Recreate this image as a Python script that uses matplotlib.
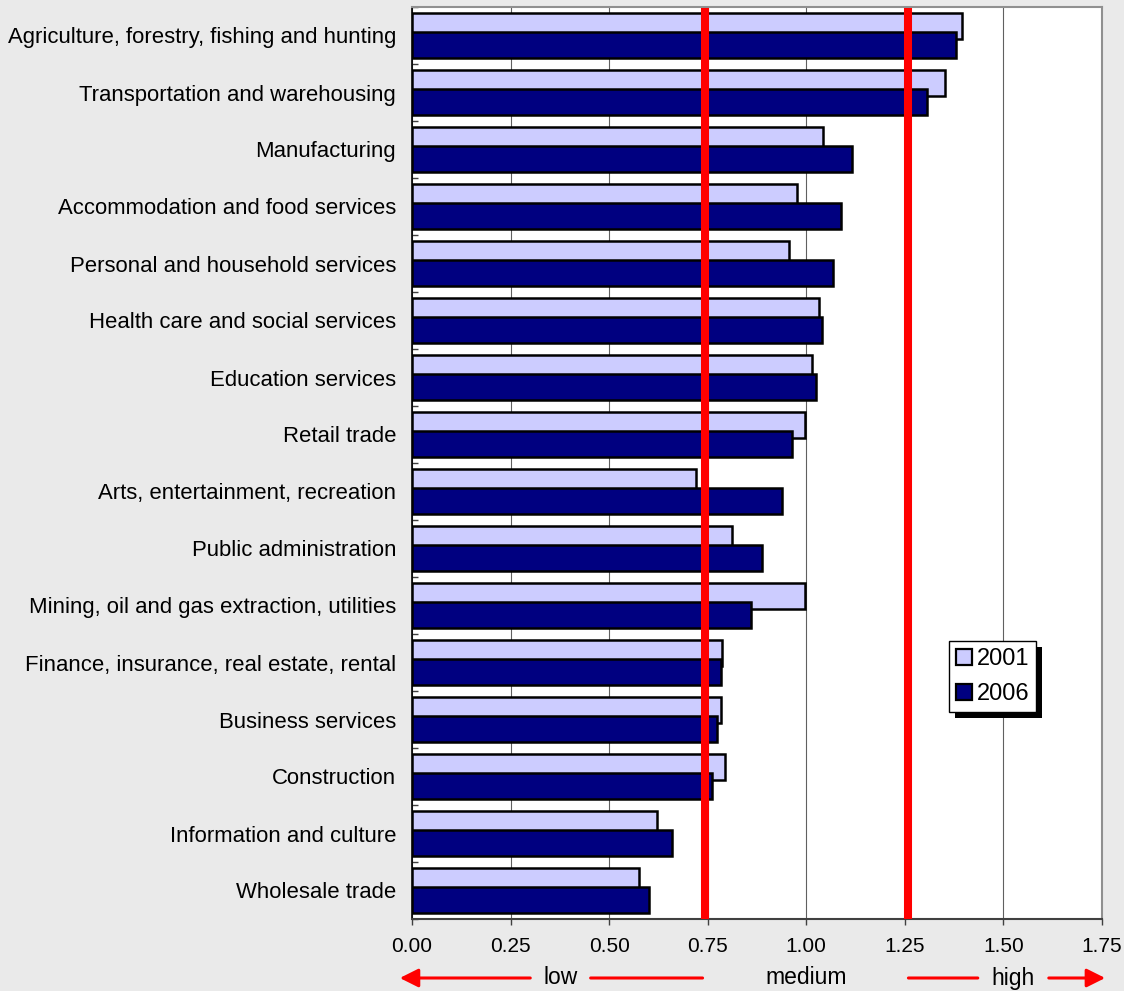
import numpy as np
import matplotlib
matplotlib.use("Agg")
import matplotlib.pyplot as plt
from matplotlib.patches import Patch, Rectangle
from matplotlib.transforms import IdentityTransform, blended_transform_factory

plt.rcParams["font.family"] = ["Liberation Sans", "DejaVu Sans"]

industries = [
    "Agriculture, forestry, fishing and hunting",
    "Transportation and warehousing",
    "Manufacturing",
    "Accommodation and food services",
    "Personal and household services",
    "Health care and social services",
    "Education services",
    "Retail trade",
    "Arts, entertainment, recreation",
    "Public administration",
    "Mining, oil and gas extraction, utilities",
    "Finance, insurance, real estate, rental",
    "Business services",
    "Construction",
    "Information and culture",
    "Wholesale trade",
]
values_2001 = [1.394, 1.351, 1.043, 0.976, 0.955, 1.031, 1.014, 0.996,
               0.720, 0.812, 0.998, 0.785, 0.783, 0.794, 0.621, 0.576]
values_2006 = [1.379, 1.306, 1.117, 1.087, 1.069, 1.041, 1.025, 0.963,
               0.938, 0.888, 0.861, 0.783, 0.773, 0.761, 0.659, 0.602]
series_labels = ["2001", "2006"]
thresholds = [0.744, 1.259]
x_ticks = [0.0, 0.25, 0.5, 0.75, 1.0, 1.25, 1.5, 1.75]

BG = "#EAEAEA"
LIGHT = "#CCCCFF"
DARK = "#000080"

fig = plt.figure(figsize=(11.24, 9.91), dpi=100, facecolor=BG)
ax = fig.add_axes([412 / 1124, 1 - 919 / 991, 690 / 1124, 912 / 991])
ax.set_facecolor("white")

y = np.arange(len(industries))
off = 0.158
h = 0.456
ax.barh(y - off, values_2001, height=h, color=LIGHT, edgecolor="black",
        linewidth=1.8, zorder=2)
ax.barh(y + off, values_2006, height=h, color=DARK, edgecolor="black",
        linewidth=1.8, zorder=3)

for t in thresholds:
    ax.axvline(t, ymin=0, ymax=(919 - 12) / 912, color="#FF0000", lw=5.8, zorder=4)

ax.set_xlim(0, 1.75)
ax.set_ylim(len(industries) - 0.5, -0.5)
ax.set_xticks(x_ticks)
ax.set_xticklabels([f"{v:.2f}" for v in x_ticks], fontsize=15)
ax.tick_params(axis="x", direction="out", length=4.3, width=1, color="#404040", pad=9)
ax.grid(axis="x", color="#606060", lw=0.8)
ax.set_axisbelow(True)

ax.set_yticks(y)
ax.set_yticklabels(industries, fontsize=15.9)
ax.set_yticks(np.arange(len(industries) + 1) - 0.5, minor=True)
ax.tick_params(axis="y", which="major", length=0, pad=11.5)
ax.tick_params(axis="y", which="minor", direction="in", length=4.3, width=1, color="#404040")

ax.spines["left"].set_color("black")
ax.spines["left"].set_linewidth(1.2)
ax.spines["bottom"].set_color("#404040")
ax.spines["top"].set_color("#909090")
ax.spines["right"].set_color("#909090")
for s in ["top", "right", "bottom"]:
    ax.spines[s].set_linewidth(1.5)

handles = [Patch(facecolor=LIGHT, edgecolor="black", linewidth=1.6),
           Patch(facecolor=DARK, edgecolor="black", linewidth=1.6)]
leg = ax.legend(handles, series_labels, loc="upper left",
                bbox_to_anchor=(0.778, 0.305), borderaxespad=0,
                fontsize=17, frameon=True, fancybox=False,
                edgecolor="black", framealpha=1, handlelength=0.68,
                handleheight=0.68, handletextpad=0.2, labelspacing=0.57,
                borderpad=0.3)
leg.get_frame().set_linewidth(1)
leg.set_zorder(6)

# bottom scale annotation
tr = blended_transform_factory(ax.transData, ax.transAxes)
ya = (919 - 978) / 912
arrow = dict(arrowstyle="-|>", color="#FF0000", lw=2.2, mutation_scale=28)
line = dict(arrowstyle="-", color="#FF0000", lw=2.2)
ax.annotate("", xy=(-0.038, ya), xytext=(0.307, ya), xycoords=tr,
            textcoords=tr, arrowprops=arrow, annotation_clip=False)
ax.annotate("", xy=(0.446, ya), xytext=(0.744, ya), xycoords=tr,
            textcoords=tr, arrowprops=line, annotation_clip=False)
ax.annotate("", xy=(1.252, ya), xytext=(1.442, ya), xycoords=tr,
            textcoords=tr, arrowprops=line, annotation_clip=False)
ax.annotate("", xy=(1.765, ya), xytext=(1.608, ya), xycoords=tr,
            textcoords=tr, arrowprops=arrow, annotation_clip=False)
for label, xv in [("low", 0.378), ("medium", 1.0), ("high", 1.524)]:
    ax.text(xv, ya, label, transform=tr, ha="center", va="center",
            fontsize=16.5, clip_on=False)

# legend drop shadow
fig.canvas.draw()
bb = leg.get_window_extent()
ax.add_patch(Rectangle((bb.x0 + 6, bb.y0 - 6), bb.width, bb.height,
                       transform=IdentityTransform(), facecolor="black",
                       edgecolor="none", zorder=5.5, clip_on=False))

fig.savefig("out.png", dpi=100, facecolor=BG)
